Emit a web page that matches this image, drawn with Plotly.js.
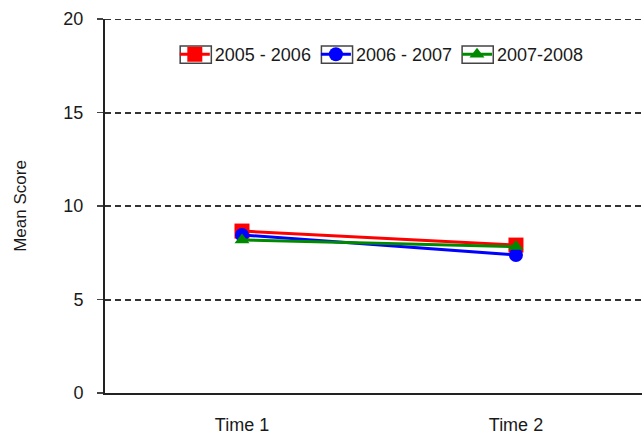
<!DOCTYPE html>
<html>
<head>
<meta charset="utf-8">
<script src="https://cdn.plot.ly/plotly-3.0.1.min.js"></script>
<style>html,body{margin:0;padding:0;background:#fff;}#chart{width:642px;height:437px;}</style>
</head>
<body>
<div id="chart"></div>
<script>
const categories = ["Time 1", "Time 2"];
const seriesNames = ["2005 - 2006", "2006 - 2007", "2007-2008"];
const values2005 = [8.66, 7.91];
const values2006 = [8.45, 7.38];
const values2007 = [8.18, 7.83];
const yTicks = [0, 5, 10, 15, 20];

const seriesValues = [values2005, values2006, values2007];
const colors = ["#ff0000", "#0000ff", "#008a00"];
const symbols = ["square", "circle", "triangle-up"];
const sizes = [15, 14, 13];

const traces = seriesValues.map((vals, i) => ({
  type: "scatter",
  mode: "lines+markers",
  name: seriesNames[i],
  x: categories,
  y: vals,
  line: {color: colors[i], width: 3},
  marker: {color: colors[i], symbol: symbols[i], size: sizes[i]}
}));

// decorative frames around the legend symbols (paper coordinates)
const legendBoxes = [[0.140, 0.198], [0.403, 0.461], [0.665, 0.723]].map(([a, b]) => ({
  type: "rect", xref: "paper", yref: "paper", x0: a, x1: b, y0: 0.882, y1: 0.928,
  line: {color: "#444", width: 1.5}, fillcolor: "rgba(0,0,0,0)", layer: "above"
}));
// dashed grid line at the top tick (edge gridline is not drawn by Plotly)
const topGrid = {
  type: "line", xref: "paper", yref: "y", x0: 0, x1: 1,
  y0: yTicks[yTicks.length - 1], y1: yTicks[yTicks.length - 1],
  line: {color: "#333", width: 2, dash: "6px,4px"}, layer: "below"
};

const font = "Liberation Sans, Arial, sans-serif";
const layout = {
  width: 642, height: 437,
  margin: {l: 105, r: 0, t: 19, b: 44, pad: 0},
  paper_bgcolor: "#fff", plot_bgcolor: "#fff",
  font: {family: font, size: 18, color: "#1a1a1a"},
  showlegend: true,
  legend: {
    orientation: "h", x: 0.13, xanchor: "left", y: 0.905, yanchor: "middle",
    bgcolor: "rgba(0,0,0,0)", font: {family: font, size: 18, color: "#1a1a1a"},
    traceorder: "normal"
  },
  shapes: legendBoxes.concat([topGrid]),
  xaxis: {
    type: "category", range: [-0.5, 1.46],
    showline: true, linecolor: "#222", linewidth: 2,
    showgrid: false, zeroline: false, ticks: "",
    ticklabelstandoff: 14, tickfont: {size: 18, color: "#1a1a1a"}
  },
  yaxis: {
    range: [0, 20], tickvals: yTicks, ticktext: yTicks.map(String),
    showline: true, linecolor: "#222", linewidth: 2,
    showgrid: true, gridcolor: "#333", gridwidth: 2, griddash: "6px,4px",
    zeroline: false, ticks: "outside", ticklen: 6, tickcolor: "#444", tickwidth: 1.5,
    ticklabelstandoff: 10, tickfont: {size: 18, color: "#1a1a1a"},
    title: {text: "Mean Score", font: {size: 17, color: "#1a1a1a"}, standoff: 32}
  }
};

Plotly.newPlot("chart", traces, layout, {staticPlot: true, displayModeBar: false});
</script>
</body>
</html>
